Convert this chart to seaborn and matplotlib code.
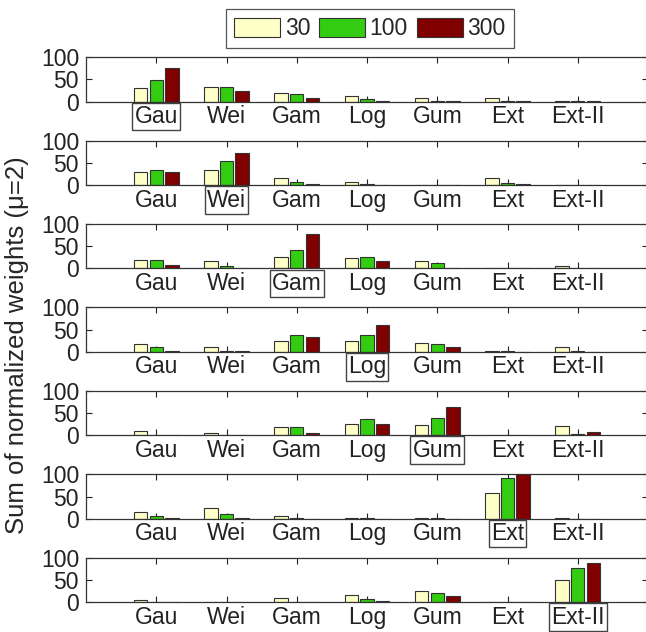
import matplotlib
matplotlib.use("Agg")
import matplotlib.pyplot as plt
import seaborn as sns
import pandas as pd
from matplotlib.patches import Patch

# Candidate distributions and the sample sizes used to fit them
categories = ["Gau", "Wei", "Gam", "Log", "Gum", "Ext", "Ext-II"]
sample_sizes = ["30", "100", "300"]
bar_colors = ["#FFFFC8", "#33CC11", "#800000"]

# Sum of normalized weights per candidate, one block per true distribution
# (rows: sample size 30, 100, 300)
true_gau = [[30, 34, 20, 13, 8, 8, 1],
            [48, 33, 18, 6, 1, 1, 1],
            [75, 23, 8, 2, 1, 1, 0.5]]
true_wei = [[30, 35, 15, 8, 1, 16, 1],
            [35, 55, 8, 2, 1, 5, 1],
            [30, 73, 3, 1, 0.5, 2, 0]]
true_gam = [[20, 16, 25, 23, 16, 1, 5],
            [20, 6, 41, 25, 13, 1, 2],
            [8, 1, 77, 18, 2, 1, 0]]
true_log = [[17, 10, 25, 25, 20, 1, 10],
            [10, 2, 38, 38, 17, 1, 2],
            [2, 2, 33, 61, 10, 0, 0]]
true_gum = [[10, 5, 19, 25, 23, 1, 20],
            [1, 1, 19, 36, 40, 1, 2],
            [1, 1, 5, 25, 63, 0, 8]]
true_ext = [[16, 25, 5, 1, 1, 59, 1],
            [5, 11, 2, 1, 1, 91, 0],
            [2, 2, 0, 0, 0, 100, 0]]
true_ext2 = [[4, 1, 10, 16, 26, 1, 49],
             [1, 1, 1, 6, 21, 0, 77],
             [0, 0, 1, 2, 13, 0, 89]]

panels = [true_gau, true_wei, true_gam, true_log, true_gum, true_ext, true_ext2]

sns.set_style("ticks")
plt.rcParams["font.family"] = ["Liberation Sans", "DejaVu Sans"]

W, H = 646, 632
fig = plt.figure(figsize=(W / 100, H / 100), dpi=100)

left_px, right_px = 86, 648
top0, step, h = 57.3, 83.4, 44.4
edge = "#333333"
label_size = 16.5

for i, weights in enumerate(panels):
    top = top0 + i * step
    ax = fig.add_axes([left_px / W, 1 - (top + h) / H, (right_px - left_px) / W, h / H])
    df = pd.DataFrame({
        "dist": categories * len(sample_sizes),
        "n": [s for s in sample_sizes for _ in categories],
        "w": [v for row in weights for v in row],
    })
    sns.barplot(data=df, x="dist", y="w", hue="n", order=categories,
                hue_order=sample_sizes, palette=bar_colors, width=0.667,
                gap=0.15, edgecolor=edge, linewidth=0.8, saturation=1,
                errorbar=None, legend=False, ax=ax)
    ax.set_xlim(-1, 7)
    ax.set_ylim(0, 100)
    ax.set_yticks([0, 50, 100])
    ax.set_xlabel("")
    ax.set_ylabel("")
    ax.tick_params(direction="in", top=True, right=True, length=4, width=0.8,
                   colors="#222222", labelsize=label_size)
    ax.tick_params(axis="x", pad=2.5)
    ax.tick_params(axis="y", pad=5)
    for sp in ax.spines.values():
        sp.set_visible(True)
        sp.set_linewidth(0.9)
        sp.set_color("#333333")
    # frame the true distribution of this panel
    ax.get_xticklabels()[i].set_bbox(dict(boxstyle="square,pad=0.1", fc="none",
                                          ec="#444444", lw=1))

handles = [Patch(facecolor=c, edgecolor=edge, linewidth=0.8) for c in bar_colors]
leg = fig.legend(handles, sample_sizes, loc="upper center",
                 bbox_to_anchor=((228 + 512) / 2 / W, 1 - 9 / H), ncol=3,
                 frameon=True, fancybox=False, edgecolor="#555555", framealpha=1,
                 fontsize=label_size, handlelength=2.0, handleheight=0.9,
                 handletextpad=0.2, columnspacing=0.4, borderpad=0.35,
                 borderaxespad=0)
leg.get_frame().set_linewidth(0.9)

fig.text(17 / W, 1 - 345 / H, "Sum of normalized weights (\u03bc=2)", rotation=90,
         ha="center", va="center", fontsize=18.5)

fig.savefig("out.png", dpi=100)
